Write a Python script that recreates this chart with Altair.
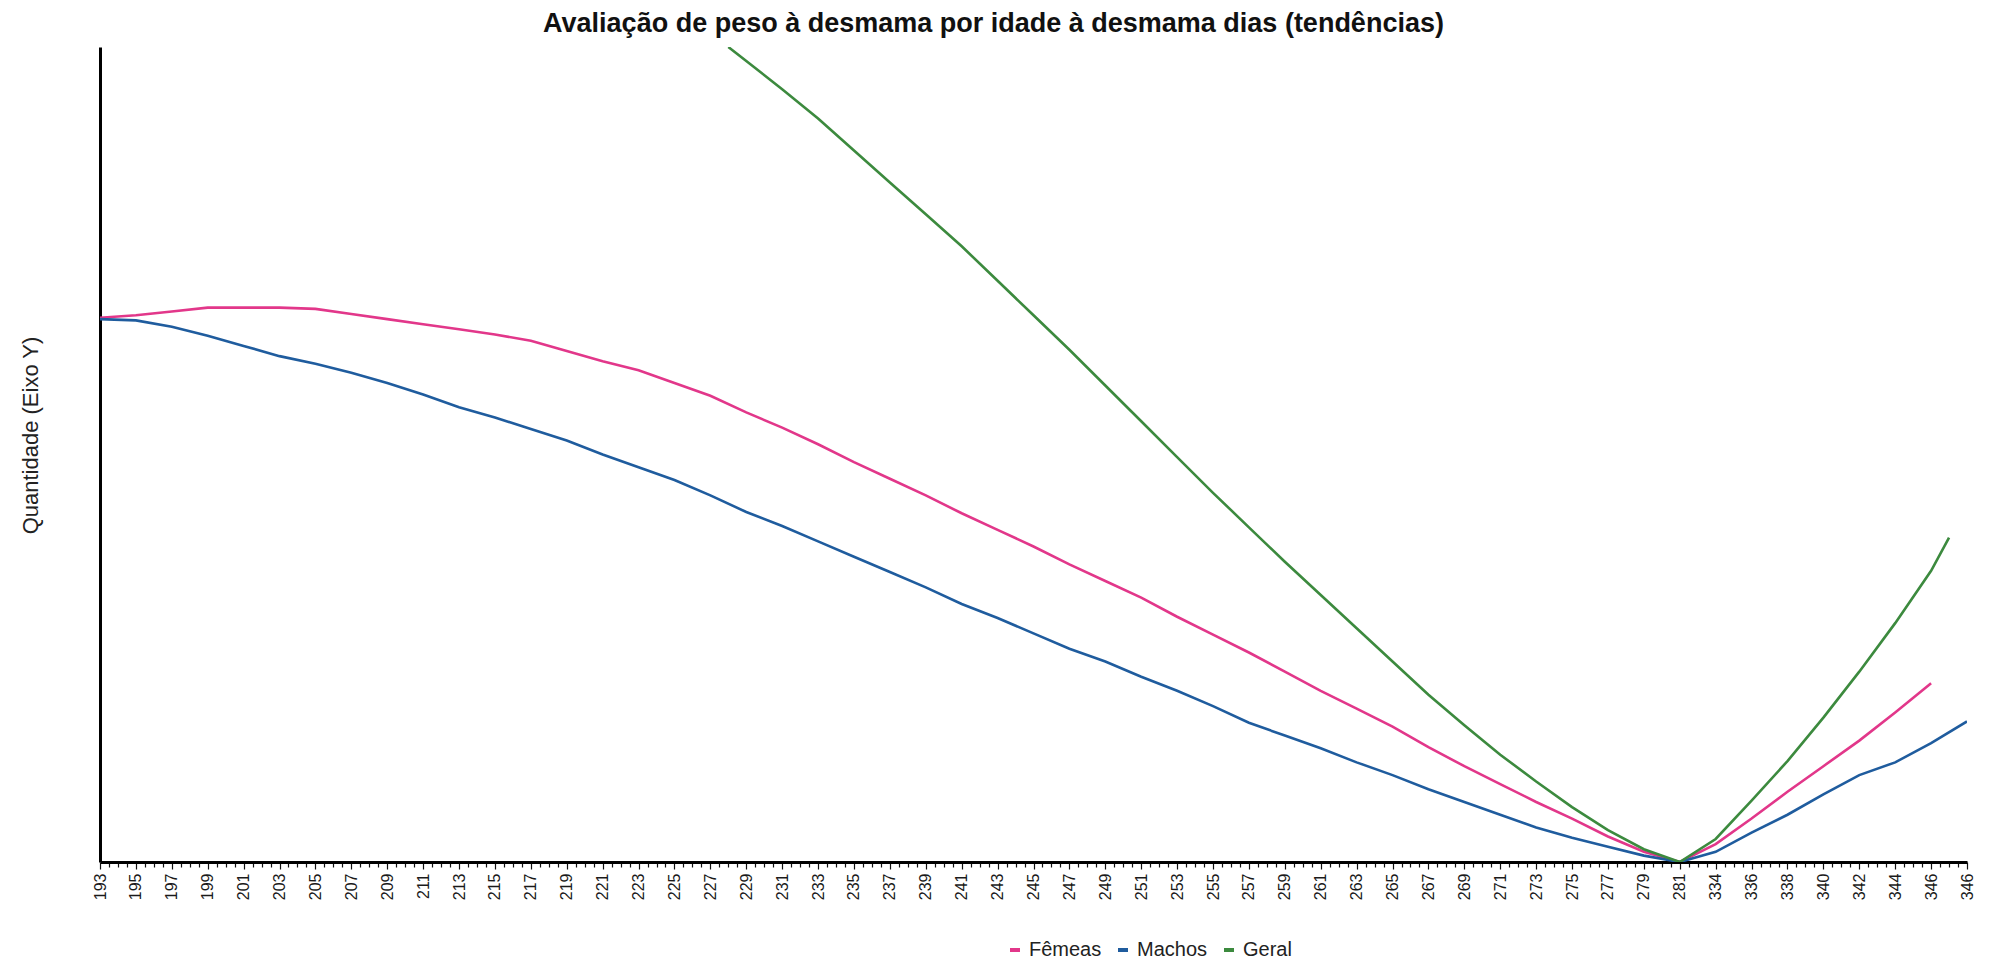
import altair as alt
import pandas as pd

x_labels = ["193", "195", "197", "199", "201", "203", "205", "207", "209", "211",
            "213", "215", "217", "219", "221", "223", "225", "227", "229", "231",
            "233", "235", "237", "239", "241", "243", "245", "247", "249", "251",
            "253", "255", "257", "259", "261", "263", "265", "267", "269", "271",
            "273", "275", "277", "279", "281", "334", "336", "338", "340", "342",
            "344", "346", "346"]

series_names = ["Fêmeas", "Machos", "Geral"]
series_colors = ["#E2378A", "#1F5C9E", "#3C8A3E"]

femeas_vals = [426, 428, 431, 434, 434, 434, 433, 429, 425, 421,
               417, 413, 408, 400, 392, 385, 375, 365, 352, 340,
               327, 313, 300, 287, 273, 260, 247, 233, 220, 207,
               192, 178, 164, 149, 134, 120, 106, 90, 75, 61,
               47, 34, 20, 8, 0, 14, 34, 55, 75, 95,
               117, 140]

machos_vals = [425, 424, 419, 412, 404, 396, 390, 383, 375, 366,
               356, 348, 339, 330, 319, 309, 299, 287, 274, 263,
               251, 239, 227, 215, 202, 191, 179, 167, 157, 145,
               134, 122, 109, 99, 89, 78, 68, 57, 47, 37,
               27, 19, 12, 5, 0, 8, 23, 37, 53, 68,
               78, 93, 110]

geral_idx = [17.5, 18, 19, 20, 21, 22, 23, 24, 25, 26,
             27, 28, 29, 30, 31, 32, 33, 34, 35, 36,
             37, 38, 39, 40, 41, 42, 43, 44, 45, 46,
             47, 48, 49, 50, 51, 51.5]
geral_vals = [638, 627, 605, 582, 557, 532, 507, 482, 455, 428,
              401, 373, 345, 317, 289, 262, 235, 209, 183, 157,
              131, 107, 84, 63, 43, 25, 10, 0, 18, 48,
              79, 113, 149, 187, 228, 254]

rows = []
for i, v in enumerate(femeas_vals):
    rows.append({"serie": "Fêmeas", "idx": i, "valor": v})
for i, v in enumerate(machos_vals):
    rows.append({"serie": "Machos", "idx": i, "valor": v})
for i, v in zip(geral_idx, geral_vals):
    rows.append({"serie": "Geral", "idx": i, "valor": v})
df = pd.DataFrame(rows)

n = len(x_labels)
tick_vals = [k / 4 for k in range(4 * (n - 1) + 1)]
label_arr = "[" + ",".join("'" + s + "'" for s in x_labels) + "]"
label_expr = "datum.value % 1 === 0 ? " + label_arr + "[datum.value] : ''"

FONT = "Liberation Sans"

chart = alt.Chart(df).mark_line(strokeWidth=2.6, clip=True).encode(
    x=alt.X("idx:Q",
            scale=alt.Scale(domain=[0, n - 1], nice=False, zero=False),
            axis=alt.Axis(values=tick_vals, labelExpr=label_expr, labelAngle=-90,
                          labelOverlap=False, labelBound=False, labelFlush=False,
                          labelFont=FONT, labelFontSize=16, labelColor="#1a1a1a",
                          labelPadding=4,
                          tickColor="#111111", tickWidth=1.2,
                          tickSize={"condition": {"test": "datum.value % 1 === 0", "value": 7}, "value": 5},
                          domainColor="#000000", domainWidth=3, grid=False, title=None)),
    y=alt.Y("valor:Q",
            scale=alt.Scale(domain=[0, 638], nice=False),
            axis=alt.Axis(labels=False, ticks=False, grid=False,
                          domainColor="#000000", domainWidth=3,
                          title="Quantidade (Eixo Y)", titleFont=FONT,
                          titleFontSize=22, titleFontWeight="normal",
                          titleColor="#222222", titlePadding=58, titleY=388)),
    color=alt.Color("serie:N",
                    scale=alt.Scale(domain=series_names, range=series_colors),
                    sort=series_names,
                    legend=alt.Legend(orient="none", legendX=905, legendY=893,
                                      direction="horizontal", title=None,
                                      symbolType="stroke", symbolSize=100,
                                      symbolStrokeWidth=4, labelFont=FONT,
                                      labelFontSize=20, labelColor="#222222",
                                      labelOffset=4, columnPadding=8)),
    order="idx:Q",
).properties(
    width=1867,
    height=815,
    title=alt.TitleParams(text="Avaliação de peso à desmama por idade à desmama dias (tendências)",
                          font=FONT, fontSize=27, fontWeight="bold", color="#111111",
                          anchor="middle", dx=-40, offset=9),
    autosize=alt.AutoSizeParams(type="none"),
    padding={"left": 92, "top": 39, "right": 23, "bottom": 106},
).configure(background="#ffffff").configure_view(strokeWidth=0)

chart.save("out.html", embed_options={"renderer": "svg", "actions": False})
